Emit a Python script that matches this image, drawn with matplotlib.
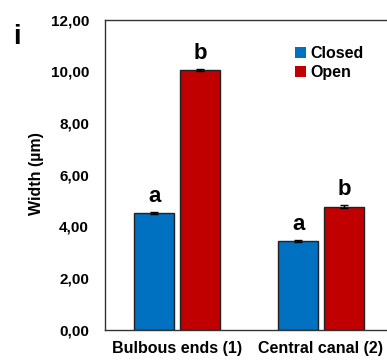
import matplotlib.pyplot as plt
import numpy as np

plt.rcParams['font.family'] = ['Liberation Sans', 'DejaVu Sans']
plt.rcParams['font.weight'] = 'bold'

categories = ['Bulbous ends (1)', 'Central canal (2)']
closed = [4.50, 3.44]
opened = [10.05, 4.76]
closed_err = [0.04, 0.03]
opened_err = [0.04, 0.07]
closed_letters = ['a', 'a']
open_letters = ['b', 'b']
yticks = [0, 2, 4, 6, 8, 10, 12]

fig = plt.figure(figsize=(3.87, 3.61), dpi=100)
# axes right edge goes a bit past the figure edge (cropped like the original)
ax = fig.add_axes([105/387, 1 - 329.7/361, 288/387, 310.2/361])

x = np.arange(len(categories))
w = 0.278
off = 0.159
ax.bar(x - off, closed, w, color='#0070C0', edgecolor='#222222', linewidth=1.0,
       yerr=closed_err, error_kw=dict(ecolor='black', capsize=3, elinewidth=1), label='Closed', zorder=2)
ax.bar(x + off, opened, w, color='#C00000', edgecolor='#222222', linewidth=1.0,
       yerr=opened_err, error_kw=dict(ecolor='black', capsize=3, elinewidth=1), label='Open', zorder=2)

for i in range(len(categories)):
    ax.text(x[i] - off, closed[i] + closed_err[i] + 0.2, closed_letters[i], ha='center', va='bottom',
            fontsize=16, fontweight='bold')
    ax.text(x[i] + off, opened[i] + opened_err[i] + 0.2, open_letters[i], ha='center', va='bottom',
            fontsize=16, fontweight='bold')

ax.set_xlim(-0.5, 1.5)
ax.set_ylim(0, 12)
ax.set_yticks(yticks)
ax.set_yticklabels(['%d,00' % t for t in yticks], fontsize=11, fontweight='bold')
ax.set_xticks(x)
ax.set_xticklabels(categories, fontsize=11.5, fontweight='bold')
ax.tick_params(axis='both', length=0)
ax.tick_params(axis='y', pad=11.5)
ax.tick_params(axis='x', pad=8)
for s in ax.spines.values():
    s.set_color('#333333')
    s.set_linewidth(1.0)

fig.text(36/387, 1 - 174/361, 'Width (µm)', rotation=90, ha='center', va='center',
         fontsize=11.5, fontweight='bold')
fig.text(17/387, 1 - 37/361, 'i', ha='center', va='center', fontsize=20, fontweight='bold')

leg = ax.legend(loc='upper left', bbox_to_anchor=(0.638, 0.935), frameon=False, fontsize=11.5,
                handlelength=0.65, handleheight=0.65, handletextpad=0.3, labelspacing=0.25,
                borderaxespad=0)
for h in leg.legend_handles:
    h.set_edgecolor('none')

fig.savefig('out.png', dpi=100)
